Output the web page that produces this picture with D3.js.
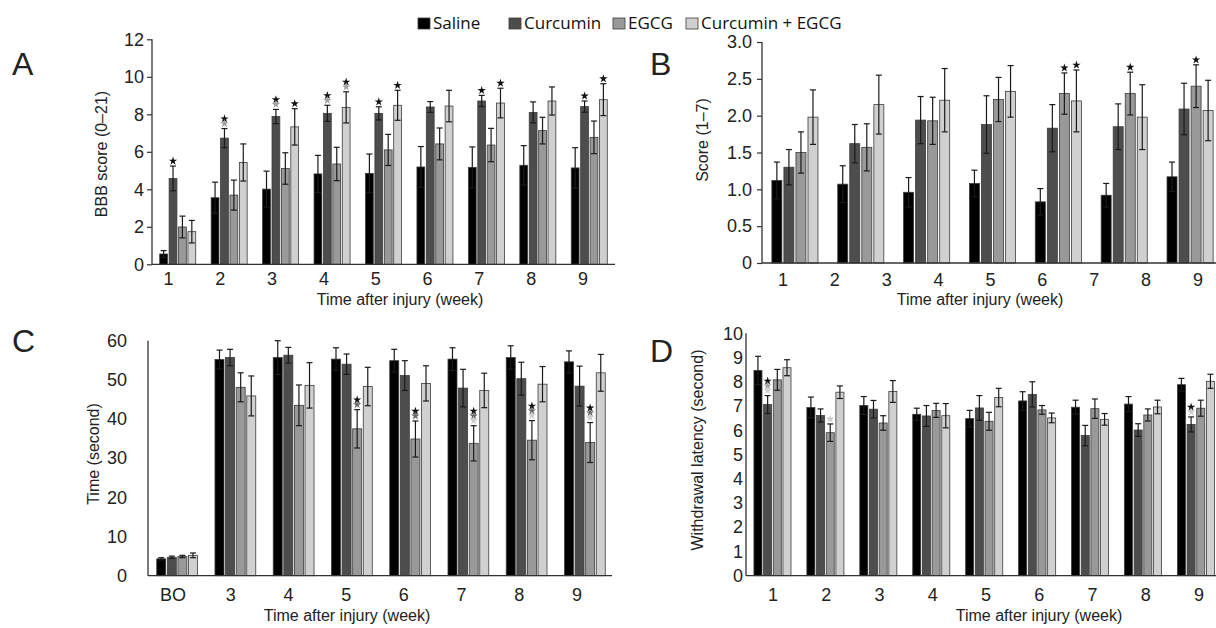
<!DOCTYPE html>
<html>
<head>
<meta charset="utf-8">
<title>Behaviour scores after injury</title>
<script src="https://d3js.org/d3.v7.min.js"></script>
<style>
  body { margin: 0; background: #fff; }
  svg { display: block; font-family: "Liberation Sans", Arial, sans-serif; }
  .tick text { fill: #222; }
</style>
</head>
<body>
<div id="chart"></div>
<script>
// ---- data ----
const seriesNames = ["Saline", "Curcumin", "EGCG", "Curcumin + EGCG"];

// A: BBB score, weeks 1-9 (rows = series)
const bbbWeeks = ["1", "2", "3", "4", "5", "6", "7", "8", "9"];
const bbbMean = [
  [0.55, 3.55, 4.01, 4.82, 4.85, 5.19, 5.17, 5.28, 5.14],
  [4.58, 6.73, 7.88, 8.05, 8.05, 8.39, 8.71, 8.10, 8.41],
  [1.99, 3.69, 5.11, 5.35, 6.10, 6.42, 6.36, 7.13, 6.77],
  [1.74, 5.43, 7.33, 8.37, 8.48, 8.44, 8.60, 8.71, 8.78]
];
const bbbErr = [
  [0.18, 0.83, 0.96, 0.99, 1.03, 1.09, 1.09, 1.05, 1.08],
  [0.66, 0.51, 0.38, 0.43, 0.35, 0.29, 0.30, 0.56, 0.30],
  [0.58, 0.80, 0.84, 0.89, 0.83, 0.85, 0.89, 0.71, 0.87],
  [0.60, 0.99, 0.97, 0.83, 0.80, 0.84, 0.79, 0.75, 0.85]
];
// [group, series, comparison groups shown as stars, top to bottom]
const bbbStars = [
  [0, 1, [0]], [1, 1, [0, 2]], [2, 1, [0, 2]], [3, 1, [0, 2]], [4, 1, [0]],
  [6, 1, [0]], [8, 1, [0]],
  [2, 3, [0]], [3, 3, [0, 2]], [4, 3, [0]], [6, 3, [0]], [8, 3, [0]]
];

// B: score (1-7), seven bar groups drawn against tick labels 1-9
const scoreGroups = ["g1", "g2", "g3", "g4", "g5", "g6", "g7"];
const scoreTicks = ["1", "2", "3", "4", "5", "6", "7", "8", "9"];
const scoreMean = [
  [1.12, 1.07, 0.96, 1.08, 0.83, 0.92, 1.17],
  [1.30, 1.62, 1.94, 1.88, 1.83, 1.85, 2.09],
  [1.50, 1.57, 1.93, 2.22, 2.30, 2.30, 2.40],
  [1.98, 2.15, 2.21, 2.33, 2.20, 1.98, 2.07]
];
const scoreErr = [
  [0.25, 0.25, 0.20, 0.18, 0.18, 0.16, 0.20],
  [0.24, 0.26, 0.32, 0.39, 0.32, 0.31, 0.35],
  [0.28, 0.32, 0.32, 0.30, 0.28, 0.29, 0.29],
  [0.37, 0.40, 0.43, 0.35, 0.42, 0.44, 0.41]
];
const scoreStars = [[4, 2, [0]], [4, 3, [0]], [5, 2, [0]], [6, 2, [0]]];

// C: time (second)
const timeWeeks = ["BO", "3", "4", "5", "6", "7", "8", "9"];
const timeMean = [
  [4.3, 55.2, 55.7, 55.3, 54.9, 55.3, 55.7, 54.6],
  [4.7, 55.7, 56.3, 54.0, 51.1, 47.9, 50.3, 48.4],
  [4.9, 48.1, 43.5, 37.5, 34.9, 33.8, 34.6, 34.0],
  [5.2, 45.9, 48.6, 48.3, 49.1, 47.3, 48.9, 51.8]
];
const timeErr = [
  [0.3, 2.4, 4.3, 2.9, 2.9, 2.9, 3.0, 2.8],
  [0.3, 2.1, 2.0, 2.6, 3.8, 4.8, 4.2, 5.1],
  [0.3, 3.7, 5.2, 4.9, 4.6, 4.5, 5.0, 5.1],
  [0.6, 5.1, 5.8, 4.9, 4.5, 4.4, 4.5, 4.7]
];
const timeStars = [
  [3, 2, [0, 1]], [4, 2, [0, 1]], [5, 2, [0, 1, 3]], [6, 2, [0, 1, 3]], [7, 2, [0, 1, 3]]
];

// D: withdrawal latency (second)
const latWeeks = ["1", "2", "3", "4", "5", "6", "7", "8", "9"];
const latMean = [
  [8.47, 6.94, 7.02, 6.66, 6.48, 7.21, 6.95, 7.08, 7.88],
  [7.06, 6.61, 6.87, 6.59, 6.92, 7.48, 5.78, 6.01, 6.24],
  [8.08, 5.90, 6.30, 6.82, 6.37, 6.84, 6.89, 6.63, 6.91],
  [8.58, 7.57, 7.60, 6.60, 7.35, 6.51, 6.45, 6.96, 8.02]
];
const latErr = [
  [0.58, 0.43, 0.37, 0.25, 0.34, 0.38, 0.29, 0.31, 0.26],
  [0.37, 0.27, 0.36, 0.43, 0.51, 0.52, 0.42, 0.26, 0.31],
  [0.43, 0.36, 0.30, 0.29, 0.37, 0.18, 0.40, 0.25, 0.33],
  [0.33, 0.26, 0.45, 0.50, 0.38, 0.20, 0.24, 0.28, 0.29]
];
const latStars = [[0, 1, [0, 2, 3]], [1, 2, [3]], [8, 1, [0, 3]]];

// ---- drawing ----
const colors = ["#000000", "#4d4d4d", "#999999", "#d0d0d0"];
const starColors = ["#111111", "#6a6a6a", "#a0a0a0", "#cdcdcd"];
const font = "'Liberation Sans', Arial, sans-serif";

const svg = d3.select("#chart").append("svg")
  .attr("width", 1216).attr("height", 628);

function drawPanel(p) {
  const g = svg.append("g").style("font-family", font);
  const x = d3.scaleBand().domain(p.groups).range(p.xRange)
    .paddingInner(p.pad).paddingOuter(p.pad / 2);
  const xs = d3.scaleBand().domain(d3.range(seriesNames.length))
    .range([0, x.bandwidth()]).paddingInner(p.barPad);
  const y = d3.scaleLinear().domain(p.yDomain).range(p.yRange);
  const lab = d3.scalePoint().domain(p.labels).range(p.labelRange);

  // bars
  p.mean.forEach(function (row, s) {
    g.append("g").selectAll("rect").data(row).join("rect")
      .attr("x", (d, i) => x(p.groups[i]) + xs(s))
      .attr("y", d => y(d))
      .attr("width", xs.bandwidth())
      .attr("height", d => y(0) - y(d))
      .attr("fill", colors[s])
      .attr("stroke", "#3c3c3c")
      .attr("stroke-width", 0.8);
  });

  // error bars
  p.mean.forEach(function (row, s) {
    const eb = g.append("g").attr("stroke", "#1a1a1a").attr("stroke-width", 1.2);
    row.forEach(function (d, i) {
      const cx = x(p.groups[i]) + xs(s) + xs.bandwidth() / 2;
      const e = p.err[s][i];
      eb.append("line").attr("x1", cx).attr("x2", cx)
        .attr("y1", y(d - e)).attr("y2", y(d + e));
      [d + e, d - e].forEach(function (v) {
        eb.append("line").attr("x1", cx - 3).attr("x2", cx + 3)
          .attr("y1", y(v)).attr("y2", y(v));
      });
    });
  });

  // significance stars
  const star = d3.symbol().type(d3.symbolStar).size(22);
  p.stars.forEach(function (st) {
    const gi = st[0], s = st[1], list = st[2];
    const cx = x(p.groups[gi]) + xs(s) + xs.bandwidth() / 2;
    const top = y(p.mean[s][gi] + p.err[s][gi]);
    list.forEach(function (c, k) {
      const fromBottom = list.length - 1 - k;
      g.append("path").attr("d", star)
        .attr("transform", "translate(" + cx + "," + (top - 5 - fromBottom * 4.8) + ")")
        .attr("fill", starColors[c]);
    });
  });

  // y axis
  const ya = g.append("g").attr("transform", "translate(" + p.xRange[0] + ",0)")
    .call(d3.axisLeft(y).tickValues(p.yTicks).tickFormat(p.fmt)
      .tickSize(p.tickSize).tickPadding(p.tickPad));
  ya.attr("font-family", null).attr("font-size", null);
  ya.select(".domain").attr("stroke", "#333").attr("stroke-width", 1.3)
    .attr("d", "M0," + y(p.yDomain[1]) + "V" + y(0));
  ya.selectAll(".tick line").attr("stroke", "#333").attr("stroke-width", 1.2);
  ya.selectAll("text").style("font-size", "18px");

  // x axis line
  g.append("line").attr("x1", p.xRange[0]).attr("x2", p.xEnd)
    .attr("y1", y(0)).attr("y2", y(0))
    .attr("stroke", "#333").attr("stroke-width", 1.3);

  // x tick labels
  g.append("g").selectAll("text").data(p.labels).join("text")
    .attr("x", d => lab(d)).attr("y", p.labelY)
    .attr("text-anchor", "middle")
    .style("font-size", "18px").attr("fill", "#222")
    .text(d => d);

  // titles
  g.append("text").attr("transform", "translate(" + p.yTitle[0] + "," + p.yTitle[1] + ") rotate(-90)")
    .attr("text-anchor", "middle").attr("dominant-baseline", "central")
    .style("font-size", "16px").attr("fill", "#222").text(p.yLabel);
  g.append("text").attr("x", p.xTitle[0]).attr("y", p.xTitle[1])
    .attr("text-anchor", "middle")
    .style("font-size", "16px").attr("fill", "#222").text("Time after injury (week)");
  g.append("text").attr("x", p.letter[0]).attr("y", p.letter[1])
    .style("font-size", "32px").attr("fill", "#222").text(p.letter[2]);
}

drawPanel({
  groups: bbbWeeks, mean: bbbMean, err: bbbErr, stars: bbbStars,
  xRange: [152, 615], xEnd: 615, pad: 0.3, barPad: 0.17,
  yDomain: [0, 12], yRange: [264.3, 39.3], yTicks: d3.range(0, 13, 2), fmt: d3.format("d"),
  tickSize: 5, tickPad: 3,
  labels: bbbWeeks, labelRange: [168.5, 583], labelY: 285,
  yLabel: "BBB score (0\u201321)", yTitle: [101, 154], xTitle: [400, 305], letter: [12, 75, "A"]
});

drawPanel({
  groups: scoreGroups, mean: scoreMean, err: scoreErr, stars: scoreStars,
  xRange: [762, 1223], xEnd: 1216, pad: 0.3, barPad: 0.17,
  yDomain: [0, 3], yRange: [263, 42], yTicks: d3.range(0, 3.01, 0.5),
  fmt: d => d === 0 ? "0" : d3.format(".1f")(d),
  tickSize: 5, tickPad: 5,
  labels: scoreTicks, labelRange: [783, 1198], labelY: 286,
  yLabel: "Score (1\u20137)", yTitle: [702, 140], xTitle: [980, 305], letter: [650, 75, "B"]
});

drawPanel({
  groups: timeWeeks, mean: timeMean, err: timeErr, stars: timeStars,
  xRange: [148, 614], xEnd: 612, pad: 0.3, barPad: 0.15,
  yDomain: [0, 60], yRange: [575.7, 340.7], yTicks: d3.range(0, 61, 10), fmt: d3.format("d"),
  tickSize: 0, tickPad: 21,
  labels: timeWeeks, labelRange: [173, 577], labelY: 601,
  yLabel: "Time (second)", yTitle: [93, 454], xTitle: [347, 621], letter: [12, 352, "C"]
});

drawPanel({
  groups: latWeeks, mean: latMean, err: latErr, stars: latStars,
  xRange: [746, 1222.4], xEnd: 1216, pad: 0.3, barPad: 0.17,
  yDomain: [0, 10], yRange: [575.7, 333.3], yTicks: d3.range(0, 11, 1), fmt: d3.format("d"),
  tickSize: 0, tickPad: 3,
  labels: latWeeks, labelRange: [773, 1199], labelY: 601,
  yLabel: "Withdrawal latency (second)", yTitle: [697, 450], xTitle: [1039, 621], letter: [650, 362, "D"]
});

// legend
const legendX = [418, 509, 613, 686];
const legend = svg.append("g").style("font-family", "'Open Sans', sans-serif");
seriesNames.forEach(function (name, i) {
  legend.append("rect").attr("x", legendX[i]).attr("y", 18)
    .attr("width", 12).attr("height", 11)
    .attr("fill", colors[i]).attr("stroke", "#3c3c3c").attr("stroke-width", 0.8);
  legend.append("text").attr("x", legendX[i] + 15).attr("y", 28.5)
    .style("font-size", "17px").attr("fill", "#111").text(name);
});
</script>
</body>
</html>
